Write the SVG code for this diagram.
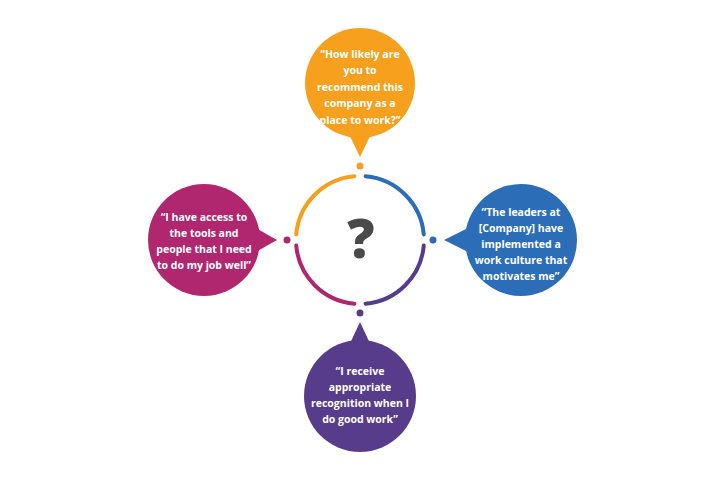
<svg xmlns="http://www.w3.org/2000/svg" width="720" height="480" viewBox="0 0 720 480">
<style>
.t{font-family:"Open Sans","DejaVu Sans",sans-serif;font-weight:700;font-size:10.5px;fill:#fff;text-anchor:middle}
.a{fill:none;stroke-width:4;stroke-linecap:round}
</style>
<rect width="720" height="480" fill="#fff"/>
<g id="connectors">
<path class="a" stroke="#F7A01E" d="M296.25,234.4 A64,64 0 0 1 354.4,176.25"/>
<path class="a" stroke="#2C6DB8" d="M365.6,176.25 A64,64 0 0 1 423.75,234.4"/>
<path class="a" stroke="#573C8C" d="M423.75,245.6 A64,64 0 0 1 365.6,303.75"/>
<path class="a" stroke="#B0266F" d="M354.4,303.75 A64,64 0 0 1 296.25,245.6"/>
<circle cx="360" cy="166" r="3.5" fill="#F7A01E"/>
<circle cx="433" cy="240" r="3.5" fill="#2C6DB8"/>
<circle cx="360" cy="313" r="3.5" fill="#573C8C"/>
<circle cx="287" cy="240" r="3.5" fill="#B0266F"/>
</g>
<g id="center"><text x="361" y="258" font-family="Open Sans,DejaVu Sans,sans-serif" font-weight="800" font-size="54" fill="#4a4a4a" text-anchor="middle">?</text></g>
<g id="top" fill="#F7A01E">
<circle cx="360" cy="83" r="55"/><polygon points="346,128 374,128 360,157"/>
<text class="t"><tspan x="360" y="58">“How likely are</tspan><tspan x="360" y="74">you to</tspan><tspan x="360" y="91">recommend this</tspan><tspan x="360" y="107">company as a</tspan><tspan x="360" y="124">place to work?”</tspan></text>
</g>
<g id="right" fill="#2C6DB8">
<circle cx="521" cy="240" r="56"/><polygon points="472,226 472,254 444,240"/>
<text class="t"><tspan x="521" y="216">“The leaders at</tspan><tspan x="521" y="232">[Company] have</tspan><tspan x="521" y="248">implemented a</tspan><tspan x="521" y="264">work culture that</tspan><tspan x="521" y="280">motivates me”</tspan></text>
</g>
<g id="bottom" fill="#573C8C">
<circle cx="360" cy="396" r="56"/><polygon points="346,352 374,352 360,322"/>
<text class="t"><tspan x="360" y="375">“I receive</tspan><tspan x="360" y="391">appropriate</tspan><tspan x="360" y="407">recognition when I</tspan><tspan x="360" y="423">do good work”</tspan></text>
</g>
<g id="left" fill="#B0266F">
<circle cx="204" cy="240" r="56"/><polygon points="252,226 252,254 277,240"/>
<text class="t"><tspan x="204" y="221">“I have access to</tspan><tspan x="204" y="237">the tools and</tspan><tspan x="204" y="253">people that I need</tspan><tspan x="204" y="269">to do my job well”</tspan></text>
</g>
</svg>
